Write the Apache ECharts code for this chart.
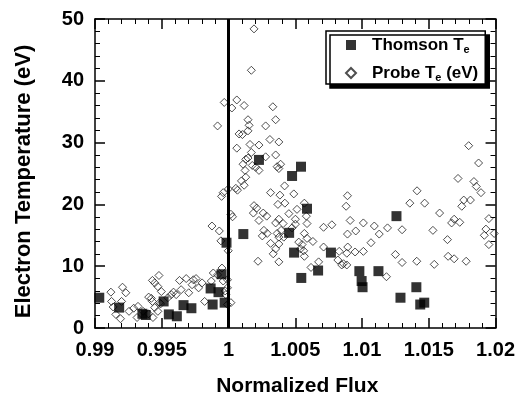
<!DOCTYPE html>
<html>
<head>
<meta charset="utf-8">
<script src="https://cdn.jsdelivr.net/npm/echarts@6/dist/echarts.min.js"></script>
<style>
html,body{margin:0;padding:0;background:#fff;}
#chart{width:518px;height:402px;}
</style>
</head>
<body>
<div id="chart"></div>
<script>
// ---- data ----
const xTickLabels = ['0.99','0.995','1','1.005','1.01','1.015','1.02'];
const yTickLabels = ['0','10','20','30','40','50'];
const boundaryFlux = 1;

const thomsonFlux = [0.99032,0.99181,0.99355,0.99380,0.99514,0.99553,0.99613,0.99663,0.99722,0.99866,
  0.99881,0.99925,0.99948,0.99971,0.99985,1.00228,1.00543,1.00476,1.00588,1.00111,
  1.00454,1.00491,1.00767,1.00671,1.00545,1.00980,1.00997,1.01004,1.01123,1.01258,
  1.01288,1.01407,1.01436,1.01466];
const thomsonTe = [4.9,3.3,2.3,2.1,4.3,2.2,1.9,3.7,3.2,6.4,
  3.8,5.8,8.7,4.1,13.8,27.2,26.1,24.6,19.3,15.2,
  15.4,12.2,12.2,9.3,8.1,9.2,7.6,6.6,9.2,18.1,
  4.9,6.6,3.8,4.1];

const probeFlux = [0.99119,0.99124,0.99136,0.99156,0.99191,0.99206,0.99199,0.99231,0.99255,0.99290,
  0.99322,0.99315,0.99360,0.99400,0.99422,0.99430,0.99447,0.99434,0.99430,0.99447,
  0.99479,0.99471,0.99497,0.99484,0.99471,0.99402,0.99491,0.99546,0.99571,0.99588,
  0.99608,0.99633,0.99645,0.99683,0.99702,0.99727,0.99737,0.99757,0.99776,0.99802,
  0.99821,0.99871,0.99886,0.99918,0.99951,0.99960,0.99980,0.99975,0.99992,0.99992,
  0.99876,0.99931,0.99943,0.99948,0.99960,0.99999,0.99998,0.99968,0.99918,0.99992,
  1.00018,1.00018,1.00030,1.00025,1.00062,1.00055,1.00067,1.00117,1.00129,1.00124,
  1.00109,1.00178,1.00228,1.00129,1.00191,1.00171,1.00117,1.00332,1.00353,1.00278,
  1.00146,1.00154,1.00146,1.00079,1.00104,1.00310,1.00377,1.00062,1.00161,1.00228,
  1.00171,1.00278,1.00353,1.00146,1.00204,1.00364,1.00390,1.00377,1.00097,1.00420,
  1.00315,1.00489,1.00385,1.00370,1.00422,1.00191,1.00211,1.00186,1.00260,1.00286,
  1.00228,1.00452,1.00513,1.00501,1.00583,1.00377,1.00353,1.00409,1.00501,1.00588,
  1.00476,1.00265,1.00290,1.00253,1.00364,1.00394,1.00377,1.00414,1.00568,1.00588,
  1.00315,1.00377,1.00353,1.00335,1.00526,1.00551,1.00539,1.00563,1.00632,1.00568,
  1.00712,1.00712,1.00774,1.00221,1.00377,1.00618,1.00675,1.00568,1.00891,1.00881,
  1.00911,1.01010,1.01092,1.01191,1.00953,1.00891,1.01129,1.01300,1.01067,1.00893,
  1.00829,1.00886,1.00948,1.01010,1.00819,1.00861,1.00886,1.00848,1.01250,1.01300,
  1.01410,1.01183,1.01412,1.01358,1.01469,1.01799,1.01873,1.01719,1.01838,1.01856,
  1.01891,1.01762,1.01812,1.01747,1.01581,1.01690,1.01671,1.01732,1.01950,1.01531,
  1.01928,1.01916,1.01990,1.01950,1.01640,1.01645,1.01690,1.01780,1.01541];
const probeTe = [5.8,4.3,3.4,2.2,1.5,6.6,4.3,5.7,2.7,3.2,
  3.5,1.7,2.7,2.3,4.8,4.3,3.3,1.7,7.7,7.3,
  8.5,6.7,5.9,4.1,2.7,5.0,3.9,4.9,5.4,5.8,
  5.4,7.7,6.2,8.0,5.7,7.0,7.8,8.0,6.5,7.3,
  4.3,7.6,8.9,8.6,9.7,7.6,5.4,6.0,6.5,3.8,
  16.5,15.7,14.1,21.3,21.9,22.5,12.5,36.5,32.7,7.8,
  4.1,18.4,18.0,35.6,36.9,22.6,22.3,23.1,24.4,25.5,
  26.5,26.3,25.5,27.3,48.4,41.7,36.0,35.8,33.7,32.7,
  33.7,32.8,31.9,31.4,31.3,30.5,30.1,29.1,29.7,29.6,
  28.4,27.7,28.0,27.5,26.0,26.1,26.5,25.8,23.8,23.0,
  21.9,21.7,21.5,20.0,20.2,19.8,19.4,18.6,18.6,18.1,
  17.4,18.5,19.2,17.6,18.1,17.6,17.0,16.9,16.8,16.9,
  16.2,15.8,15.3,14.9,15.3,15.8,14.7,14.7,15.3,14.5,
  13.7,13.6,12.8,12.0,13.9,13.5,12.8,12.5,14.0,11.6,
  13.1,16.3,16.7,10.8,10.7,9.8,10.7,20.2,21.4,19.7,
  17.4,17.0,16.5,16.2,15.7,15.2,15.2,15.9,13.8,13.1,
  12.4,12.1,12.3,12.4,11.0,10.4,10.2,10.2,11.9,10.6,
  10.8,8.3,22.2,20.2,20.2,29.5,26.7,24.2,23.7,22.9,
  21.9,20.7,20.7,19.7,18.6,17.6,17.0,17.1,17.7,15.8,
  16.0,15.0,15.3,13.5,14.3,11.6,11.2,10.8,10.3];

// ---- chart ----
const FONT = '"Liberation Sans", Arial, Helvetica, sans-serif';

const thomsonData = thomsonFlux.map((x, i) => [x, thomsonTe[i]]);
const probeData = probeFlux.map((x, i) => [x, probeTe[i]]);

const xMin = 0.99, xMax = 1.02, xStep = 0.005;
const yMin = 0, yMax = 50, yStep = 10;

function xFmt(v) { const i = Math.round((v - xMin) / xStep); return xTickLabels[i] || ''; }
function yFmt(v) { const i = Math.round((v - yMin) / yStep); return yTickLabels[i] || ''; }

const axisLineStyle = { color: '#000', width: 1.5 };
function mkX(pos, showLabel) {
  return {
    type: 'value', position: pos, min: xMin, max: xMax, interval: xStep,
    axisLine: { show: true, onZero: false, lineStyle: axisLineStyle },
    axisTick: { show: true, inside: true, length: 10, lineStyle: { color: '#000', width: 1.5 } },
    minorTick: { show: true, splitNumber: 5, length: 5, lineStyle: { color: '#000', width: 1 } },
    splitLine: { show: false }, minorSplitLine: { show: false },
    axisLabel: showLabel ? { show: true, formatter: xFmt, fontFamily: FONT, fontSize: 20, fontWeight: 'bold', color: '#000', margin: 12 } : { show: false },
    name: showLabel ? 'Normalized Flux' : '',
    nameLocation: 'middle', nameGap: 48,
    nameTextStyle: { fontFamily: FONT, fontSize: 21, fontWeight: 'bold', color: '#000', padding: [0, 0, 0, 4] }
  };
}
function mkY(pos, showLabel) {
  return {
    type: 'value', position: pos, min: yMin, max: yMax, interval: yStep,
    axisLine: { show: true, onZero: false, lineStyle: axisLineStyle },
    axisTick: { show: true, inside: true, length: 10, lineStyle: { color: '#000', width: 1.5 } },
    minorTick: { show: true, splitNumber: 5, length: 5, lineStyle: { color: '#000', width: 1 } },
    splitLine: { show: false }, minorSplitLine: { show: false },
    axisLabel: showLabel ? { show: true, formatter: yFmt, fontFamily: FONT, fontSize: 20, fontWeight: 'bold', color: '#000', margin: 11 } : { show: false },
    name: showLabel ? 'Electron Temperature (eV)' : '',
    nameLocation: 'middle', nameGap: 60,
    nameTextStyle: { fontFamily: FONT, fontSize: 22, fontWeight: 'bold', color: '#000', padding: [0, 16, 0, 0] }
  };
}

const chart = echarts.init(document.getElementById('chart'), null, { renderer: 'canvas' });
const legendNames = { 'Thomson Te': '{p|}{n|Thomson T}{s|e}', 'Probe Te (eV)': '{p|}{n|Probe T}{s|e}{n| (eV)}' };
chart.setOption({
  animation: false,
  backgroundColor: '#fff',
  grid: { left: 95, right: 20, top: 19, bottom: 68, containLabel: false },
  xAxis: [mkX('bottom', true), mkX('top', false)],
  yAxis: [mkY('left', true), mkY('right', false)],
  legend: {
    orient: 'vertical', left: 326, top: 31,
    data: ['Thomson Te', 'Probe Te (eV)'],
    itemWidth: 10, itemHeight: 10, itemGap: 4,
    padding: [0, 7, 1, 19],
    backgroundColor: '#fff', borderColor: '#000', borderWidth: 1.5, borderRadius: 0,
    shadowColor: '#000', shadowBlur: 0, shadowOffsetX: 4, shadowOffsetY: 4,
    formatter: name => legendNames[name],
    textStyle: {
      color: '#000',
      rich: {
        p: { width: 11 },
        n: { fontFamily: FONT, fontSize: 17, fontWeight: 'bold', color: '#000', lineHeight: 20 },
        s: { fontFamily: FONT, fontSize: 11, fontWeight: 'bold', color: '#000', verticalAlign: 'bottom', lineHeight: 11, padding: [13, 0, 0, 0] }
      }
    }
  },
  series: [
    {
      name: 'Probe Te (eV)', type: 'scatter', xAxisIndex: 0, yAxisIndex: 0,
      data: probeData, symbol: 'diamond', symbolSize: 8,
      itemStyle: { color: 'rgba(255,255,255,0)', borderColor: '#222', borderWidth: 1 },
      z: 2,
      markLine: {
        silent: true, symbol: ['none', 'none'], label: { show: false },
        lineStyle: { color: '#000', width: 3, type: 'solid' },
        data: [{ xAxis: boundaryFlux }]
      }
    },
    {
      name: 'Thomson Te', type: 'scatter', xAxisIndex: 0, yAxisIndex: 0,
      data: thomsonData, symbol: 'rect', symbolSize: 10,
      itemStyle: { color: '#000' }, z: 3
    }
  ]
});
</script>
</body>
</html>
